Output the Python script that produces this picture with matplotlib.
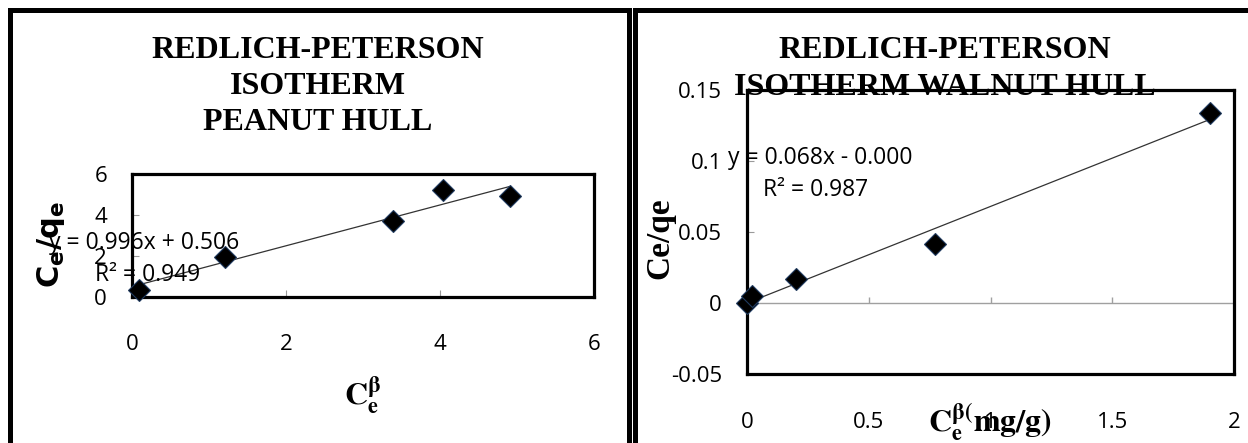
import numpy as np
import matplotlib
matplotlib.use("Agg")
import matplotlib.pyplot as plt
from matplotlib.lines import Line2D

# Redlich-Peterson linearised data, peanut hull
peanut_x = [0.09, 1.21, 3.39, 4.04, 4.91]
peanut_y = [0.34, 1.94, 3.71, 5.22, 4.93]
peanut_fit = (0.996, 0.506, 0.949)      # slope, intercept, R^2

# walnut hull
walnut_x = [0.0, 0.02, 0.203, 0.771, 1.90]
walnut_y = [0.0, 0.0049, 0.0167, 0.0413, 0.1336]
walnut_fit = (0.068, -0.0, 0.987)

peanut_xticks = [0, 2, 4, 6]
peanut_yticks = [0, 2, 4, 6]
walnut_xticks = [0, 0.5, 1, 1.5, 2]
walnut_yticks = [-0.05, 0, 0.05, 0.1, 0.15]

peanut_title = ["REDLICH-PETERSON", "ISOTHERM", "PEANUT HULL"]
walnut_title = ["REDLICH-PETERSON", "ISOTHERM WALNUT HULL"]

W, H = 1248, 443
fig = plt.figure(figsize=(W / 100, H / 100), dpi=100)


def fx(px):
    return px / W


def fy(py):
    return 1 - py / H


def eq_text(m, b, r2):
    sign = "-" if np.signbit(b) else "+"
    return f"y = {m:.3f}x {sign} {abs(b):.3f}", f"R\u00b2 = {r2:.3f}"


sans = "Open Sans"
serif = "Liberation Serif"
tick_fs = 16
eq_fs = 16.5

# outer chart borders
bw = 3.6
for seg in [((9.5, 9.5), (9.5, 450)), ((9.5, 629), (9.5, 9.5)), ((629, 629), (9.5, 450)),
            ((635, 635), (9.5, 450)), ((635, 1260), (9.5, 9.5))]:
    (x0, x1), (y0, y1) = seg
    fig.add_artist(Line2D([fx(x0), fx(x1)], [fy(y0), fy(y1)], color="black",
                          lw=bw, solid_capstyle="projecting"))

# titles
for i, t in enumerate(peanut_title):
    fig.text(fx(318), fy(50 + i * 36.5), t, ha="center", va="center", fontsize=23,
             fontweight="bold", family=serif, zorder=-1)
for i, t in enumerate(walnut_title):
    fig.text(fx(945), fy(50 + i * 38), t, ha="center", va="center", fontsize=23,
             fontweight="bold", family=serif, zorder=-1)


def style_box(ax):
    ax.set_facecolor("none")
    for s in ax.spines.values():
        s.set_linewidth(2.3)
        s.set_color("black")
    ax.tick_params(direction="in", length=5, color="#9a9a9a", labelsize=tick_fs)
    for lab in ax.get_xticklabels() + ax.get_yticklabels():
        lab.set_family(sans)


# ---- peanut hull ----
ax1 = fig.add_axes([fx(132), fy(297), fx(594) - fx(132), fy(174) - fy(297)])
ax1.set_xlim(0, 6)
ax1.set_ylim(0, 6)
ax1.set_xticks(peanut_xticks)
ax1.set_yticks(peanut_yticks)
style_box(ax1)
ax1.tick_params(axis="x", pad=27)
ax1.tick_params(axis="y", pad=18)
m, b, r2 = peanut_fit
xl = np.array([min(peanut_x), max(peanut_x)])
ax1.plot(xl, m * xl + b, color="#333333", lw=0.9, zorder=2)
ax1.plot(peanut_x, peanut_y, "D", ms=11, mfc="black", mec="#1f3a5f", mew=0.8, zorder=3,
         clip_on=False)
e1, r1 = eq_text(m, b, r2)
fig.text(fx(49), fy(243), e1, ha="left", va="center", fontsize=eq_fs, family=sans)
fig.text(fx(95), fy(275), r1, ha="left", va="center", fontsize=eq_fs, family=sans)
ax1.set_xlabel(r"$\mathbf{C_e^{\beta}}$", fontsize=23, math_fontfamily="stix")
ax1.xaxis.set_label_coords(fx(363), fy(395), transform=fig.transFigure)
ax1.set_ylabel(r"$\mathbf{C_e/q_e}$", fontsize=22, math_fontfamily="dejavusans")
ax1.yaxis.set_label_coords(fx(51), fy(245), transform=fig.transFigure)
ax1.yaxis.label.set_va("center")
ax1.xaxis.label.set_va("center")

# ---- walnut hull ----
ax2 = fig.add_axes([fx(747), fy(374), fx(1234) - fx(747), fy(90) - fy(374)])
ax2.set_xlim(0, 2)
ax2.set_ylim(-0.05, 0.15)
ax2.set_xticks(walnut_xticks)
ax2.set_yticks(walnut_yticks)
ax2.xaxis.set_major_formatter(lambda v, p: f"{v:g}")
ax2.yaxis.set_major_formatter(lambda v, p: f"{v:g}")
style_box(ax2)
ax2.tick_params(axis="x", pad=27, length=0)
ax2.tick_params(axis="y", pad=18)
# horizontal axis crossing at zero, with its own small tick marks
ax2.axhline(0, color="#a0a0a0", lw=1.0, zorder=1)
ax2.vlines(walnut_xticks[1:-1], 0, 0.004, color="#a0a0a0", lw=1.0, zorder=1)
m, b, r2 = walnut_fit
xl = np.array([min(walnut_x), max(walnut_x)])
ax2.plot(xl, m * xl + b, color="#333333", lw=0.9, zorder=2)
ax2.plot(walnut_x, walnut_y, "D", ms=11, mfc="black", mec="#1f3a5f", mew=0.8, zorder=3,
         clip_on=False)
e2, r2t = eq_text(m, b, r2)
fig.text(fx(728), fy(158), e2, ha="left", va="center", fontsize=eq_fs, family=sans)
fig.text(fx(763), fy(190), r2t, ha="left", va="center", fontsize=eq_fs, family=sans)
ax2.set_xlabel(r"$\mathbf{C_e^{\beta(}mg/g)}$", fontsize=23, math_fontfamily="stix")
ax2.xaxis.set_label_coords(fx(990), fy(422), transform=fig.transFigure)
ax2.xaxis.label.set_va("center")
ax2.set_ylabel("Ce/qe", fontsize=24, fontweight="bold", family=serif)
ax2.yaxis.set_label_coords(fx(660), fy(238), transform=fig.transFigure)
ax2.yaxis.label.set_va("center")

fig.savefig("out.png", dpi=100)
